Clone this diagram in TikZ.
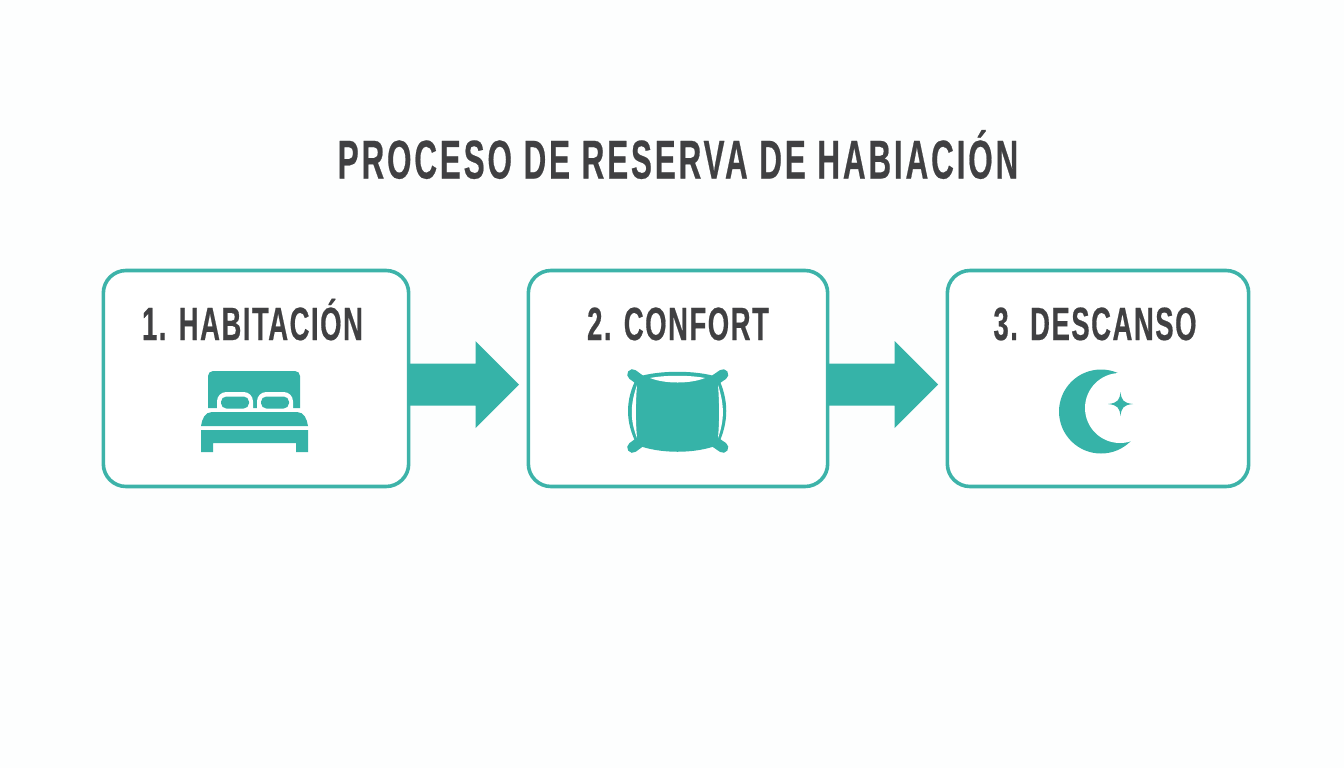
\documentclass[tikz,border=0pt]{standalone}
\usepackage{fontspec}
\newfontfamily\titlefont[FakeStretch=0.575,LetterSpace=5.2,FakeBold=0.4]{Liberation Sans Bold}
\newfontfamily\stepfont[FakeStretch=0.59,LetterSpace=3.2,FakeBold=0.4]{Liberation Sans Bold}
\usetikzlibrary{calc}
\definecolor{teal1}{HTML}{36B3A8}
\definecolor{tealline}{HTML}{3DB3A9}
\definecolor{ink}{HTML}{404042}
\definecolor{paper}{HTML}{FDFEFE}
\tikzset{
  x=0.75pt,y=-0.75pt,
  stepbox/.style={draw=tealline,line width=2.7pt,fill=white,rounded corners=17pt,minimum height=162pt,inner sep=0pt},
  steplabel/.style={text=ink,font=\stepfont\fontsize{35}{35}\selectfont,inner sep=0pt,anchor=base},
  titlelabel/.style={text=ink,font=\titlefont\fontsize{41}{41}\selectfont,inner sep=0pt,anchor=base},
  glyph/.style={fill=teal1,draw=none},
  cutout/.style={fill=white,draw=none},
  flowarrow/.style={fill=teal1,draw=none}
}
\begin{document}
\begin{tikzpicture}
\useasboundingbox (0,0) rectangle (1344,768);
\fill[paper] (0,0) rectangle (1344,768);
\node[titlelabel] (title) at (678,178.5) {PROCESO DE RESERVA DE HABIACIÓN};
% boxes
\node[stepbox,minimum width=229pt] (b1) at (256,378.5) {};
\node[stepbox,minimum width=224.5pt] (b2) at (678,378.5) {};
\node[stepbox,minimum width=226pt] (b3) at (1098,378.5) {};
\node[steplabel] (l1) at (252.5,340) {1. HABITACIÓN};
\node[steplabel] (l2) at (678,340) {2. CONFORT};
\node[steplabel] (l3) at (1095,340) {3. DESCANSO};
% arrows
\coordinate (s1) at ($(b1.east)+(-2,0)$);
\coordinate (s2) at ($(b2.east)+(-2,0)$);
\coordinate (t1) at (519,384.5);
\coordinate (t2) at (938,384.5);
\path[flowarrow] (s1 |- 0,363.5) -- (475.5,363.5) -- (475.5,341) -- (t1) -- (475.5,428) -- (475.5,405.5) -- (s1 |- 0,405.5) -- cycle;
\path[flowarrow] (s2 |- 0,363.5) -- (894.5,363.5) -- (894.5,341) -- (t2) -- (894.5,428) -- (894.5,405.5) -- (s2 |- 0,405.5) -- cycle;
% bed
\path[glyph] (208,408) -- (208,376) arc[start angle=180,end angle=270,radius=5] -- (295,371) arc[start angle=-90,end angle=0,radius=5] -- (300,408) -- cycle;
\path[cutout,rounded corners=7pt] (217,420) -- (217,392) -- (253,392) -- (253,420) -- cycle;
\path[cutout,rounded corners=7pt] (257,420) -- (257,392) -- (293,392) -- (293,420) -- cycle;
\path[glyph,rounded corners=4pt] (221,408.5) -- (221,396.5) -- (249,396.5) -- (249,408.5) -- cycle;
\path[glyph,rounded corners=4pt] (261,408.5) -- (261,396.5) -- (289,396.5) -- (289,408.5) -- cycle;
\path[glyph] (201,426) .. controls (202,419) and (205,412) .. (212,412) -- (297,412) .. controls (304,412) and (307,419) .. (308,426) -- cycle;
\path[glyph] (201,430) -- (308,430) -- (308,452) -- (296,452) -- (296,443) -- (213,443) -- (213,452) -- (201,452) -- cycle;
% pillow
\path[glyph] (637,377) .. controls (660,370) and (695,370) .. (718,377) .. controls (729,400) and (729,422) .. (718,445) .. controls (695,454) and (660,454) .. (637,445) .. controls (625,422) and (625,400) .. (637,377) -- cycle;
\draw[teal1,line width=8pt,line cap=round] (632.5,374.5) -- (640,380);
\draw[teal1,line width=8pt,line cap=round] (723,374.5) -- (715,380);
\draw[teal1,line width=8pt,line cap=round] (632.5,447.5) -- (640,442);
\draw[teal1,line width=8pt,line cap=round] (723,447.5) -- (715,442);
\path[cutout] (637,385) .. controls (630,405) and (630,420) .. (637,438) .. controls (635.5,420) and (635.5,405) .. (637,385) -- cycle;
\path[cutout] (718,385) .. controls (724.5,405) and (724.5,420) .. (718,438) .. controls (719.5,420) and (719.5,405) .. (718,385) -- cycle;
\path[cutout] (650,378) .. controls (665,375) and (690,375) .. (705,378) .. controls (690,384) and (665,384) .. (650,378) -- cycle;
% moon
\fill[teal1] (1101,411.5) circle[radius=31.5pt];
\fill[white] (1120,408) circle[radius=26.25pt];
\path[glyph] (1120.5,392) .. controls (1121.5,400) and (1123,403) .. (1133,404) .. controls (1123,405) and (1121.5,408) .. (1120.5,416) .. controls (1119.5,408) and (1118,405) .. (1108,404) .. controls (1118,403) and (1119.5,400) .. (1120.5,392) -- cycle;
\end{tikzpicture}
\end{document}
